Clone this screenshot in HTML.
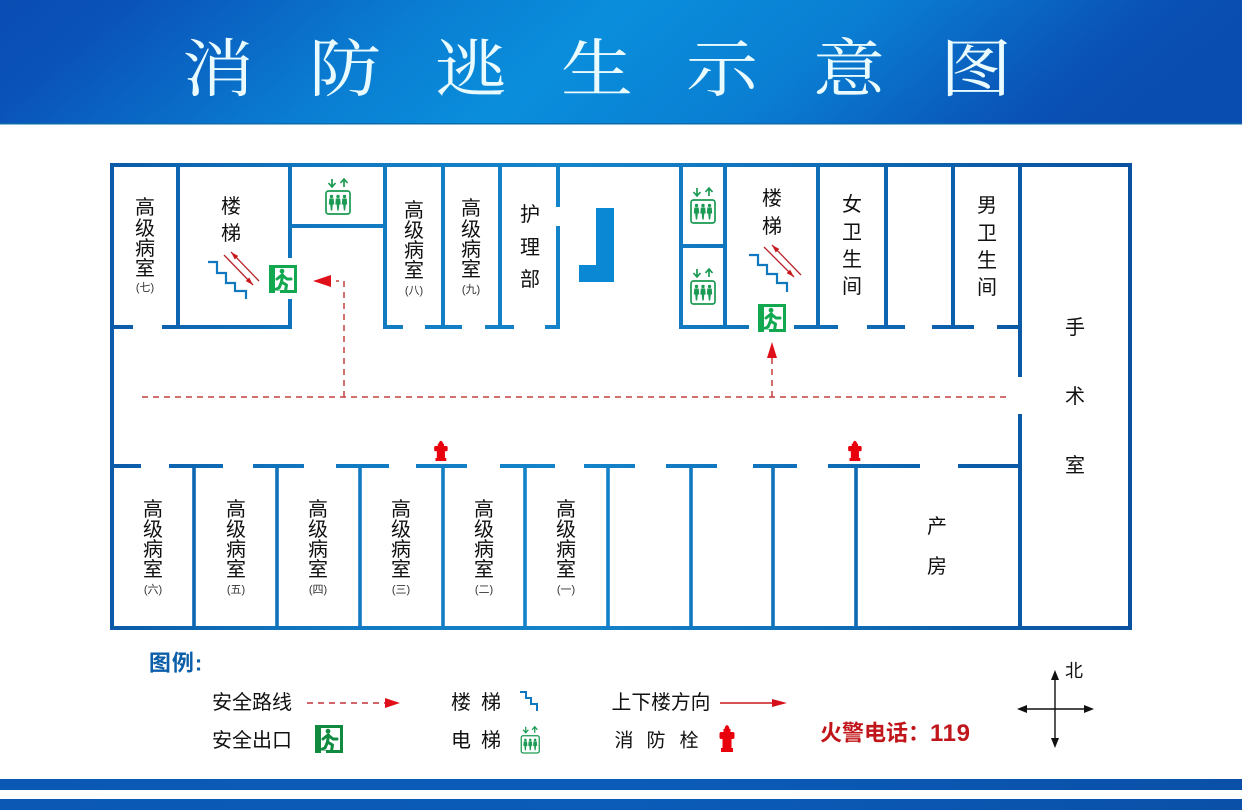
<!DOCTYPE html>
<html lang="zh">
<head>
<meta charset="utf-8">
<title>消防逃生示意图</title>
<style>
html,body{margin:0;padding:0;background:#fff;width:1242px;height:810px;overflow:hidden}
svg{display:block}
text{font-family:"Liberation Sans","Noto Sans CJK SC",sans-serif;dominant-baseline:central;text-anchor:middle;fill:#111}
.t{font-family:"Liberation Serif","Noto Serif CJK SC",serif;font-size:72px;fill:#e9fbff}
.r{font-size:20px}
.n{font-size:11px;fill:#333}
.l{font-size:20px}
.eg{fill:var(--g,#12a850)}
.es{stroke:var(--g,#12a850)}
</style>
</head>
<body>
<svg width="1242" height="810" viewBox="0 0 1242 810" xmlns="http://www.w3.org/2000/svg">
<defs>
<linearGradient id="hdr" x1="0" x2="1" y1="0" y2="0.12">
<stop offset="0" stop-color="#0a4db4"/><stop offset=".1" stop-color="#0a52b8"/><stop offset=".35" stop-color="#0a7ed2"/><stop offset=".5" stop-color="#0a8edc"/><stop offset=".7" stop-color="#0a7ed2"/><stop offset=".92" stop-color="#0a52b6"/><stop offset="1" stop-color="#0a4db0"/>
</linearGradient>
<linearGradient id="wall" gradientUnits="userSpaceOnUse" x1="110" y1="0" x2="1132" y2="0">
<stop offset="0" stop-color="#0c5aa8"/><stop offset=".2" stop-color="#1078bf"/><stop offset=".45" stop-color="#1484cb"/><stop offset=".68" stop-color="#0f6fb8"/><stop offset=".85" stop-color="#0c5ca8"/><stop offset="1" stop-color="#0a52a0"/>
</linearGradient>
<linearGradient id="bar" x1="0" x2="1" y1="0" y2="0">
<stop offset="0" stop-color="#0a58b4"/><stop offset=".5" stop-color="#0a5cb8"/><stop offset="1" stop-color="#0a50a8"/>
</linearGradient>
<g id="exit">
<rect class="eg" width="28" height="28"/>
<rect x="6" y="3" width="19" height="22" fill="#fff"/>
<g class="es" fill="none" stroke-width="3" stroke-linecap="round" stroke-linejoin="round">
<path d="M8 14 L13 10 L18 14 L22 14"/>
<path d="M13.5 10 L12.5 17 L17.5 20 L16.5 26"/>
<path d="M12.5 17 L10 23 L5 25"/>
</g>
<circle class="eg" cx="13" cy="6.2" r="2.4"/>
<rect x="6" y="25.5" width="5" height="2.5" fill="#fff"/>
</g>
<g id="lift">
<rect x="1" y="13" width="24" height="23" rx="2.5" fill="#fff" stroke="#1a9a52" stroke-width="1.7"/>
<g fill="#1a9a52">
<circle cx="6.5" cy="18.5" r="1.7"/><path d="M4.3 20.5h4.4l.5 6-1.4 0-.6 6h-1.4l-.6-6-1.4 0z"/>
<circle cx="13" cy="18.5" r="1.7"/><path d="M10.8 20.5h4.4l.5 6-1.4 0-.6 6h-1.4l-.6-6-1.4 0z"/>
<circle cx="19.5" cy="18.5" r="1.7"/><path d="M17.3 20.5h4.4l.5 6-1.4 0-.6 6h-1.4l-.6-6-1.4 0z"/>
</g>
<g fill="none" stroke="#1a9a52" stroke-width="1.7">
<path d="M7 1 V8 M3.5 5 L7 9 L10.5 5"/>
<path d="M19 9 V2 M15.5 5 L19 1 L22.5 5"/>
</g>
</g>
<g id="hyd">
<path d="M8.5 5 Q9 1.5 11 1 Q13 1.5 13.5 5 H14.5 V8 H17 Q18.5 8 18.5 10 V13 Q18.5 15 17 15 H15.5 V24 H17 V28 H5 V24 H6.5 V15 H5 Q3.5 15 3.5 13 V10 Q3.5 8 5 8 H7.5 V5 Z" fill="#e8000c"/>
</g>
<marker id="m" markerWidth="9" markerHeight="7" refX="8" refY="2.5" orient="auto" markerUnits="userSpaceOnUse"><path d="M0 0L8 2.5L0 5z" fill="#c8191d"/></marker>
</defs>

<!-- header -->
<rect width="1242" height="124" fill="url(#hdr)"/>
<rect y="123" width="1242" height="1.5" fill="#0b6aa8"/>
<text class="t" transform="translate(218,70) scale(1,.88)">消</text>
<text class="t" transform="translate(345,70) scale(1,.88)">防</text>
<text class="t" transform="translate(471,70) scale(1,.88)">逃</text>
<text class="t" transform="translate(597,70) scale(1,.88)">生</text>
<text class="t" transform="translate(722,70) scale(1,.88)">示</text>
<text class="t" transform="translate(849,70) scale(1,.88)">意</text>
<text class="t" transform="translate(976,70) scale(1,.88)">图</text>

<!-- walls -->
<g fill="none" stroke="url(#wall)" stroke-width="4">
<rect x="112" y="165" width="1018" height="463"/>
<path d="M178 165V327 M290 165V258 M290 299V327 M290 226H385 M385 165V327 M443 165V327 M500 165V327 M558 165V207 M558 226V327 M681 165V327 M725 165V327 M681 246H725 M818 165V327 M886 165V327 M953 165V327 M1020 165V377 M1020 414V628"/>
<path d="M112 327H133 M162 327H292 M383 327H403 M425 327H462 M485 327H514 M545 327H560 M679 327H749 M794 327H838 M867 327H905 M932 327H974 M997 327H1020"/>
<path d="M112 466H141 M169 466H223 M253 466H304 M336 466H389 M416 466H467 M500 466H555 M584 466H635 M666 466H717 M753 466H797 M828 466H920 M958 466H1020"/>
<path d="M194 466V628 M277 466V628 M360 466V628 M443 466V628 M525 466V628 M608 466V628 M691 466V628 M773 466V628 M856 466V628" stroke-width="3.6"/>
</g>
<path d="M596 208H614V282H579V265H596Z" fill="#0a88d4"/>

<!-- room labels -->
<g class="r">
<text class="r" x="145" y="208">高</text><text class="r" x="145" y="229">级</text><text class="r" x="145" y="249">病</text><text class="r" x="145" y="269">室</text><text class="n" x="145" y="288">(七)</text>
<text class="r" x="231" y="207">楼</text><text class="r" x="231" y="234">梯</text>
<text class="r" x="414" y="211">高</text><text class="r" x="414" y="231">级</text><text class="r" x="414" y="251">病</text><text class="r" x="414" y="271">室</text><text class="n" x="414" y="291">(八)</text>
<text class="r" x="471" y="209">高</text><text class="r" x="471" y="230">级</text><text class="r" x="471" y="250">病</text><text class="r" x="471" y="270">室</text><text class="n" x="471" y="290">(九)</text>
<text class="r" x="530" y="215">护</text><text class="r" x="530" y="248">理</text><text class="r" x="530" y="280">部</text>
<text class="r" x="772" y="199">楼</text><text class="r" x="772" y="227">梯</text>
<text class="r" x="852" y="205">女</text><text class="r" x="852" y="233">卫</text><text class="r" x="852" y="260">生</text><text class="r" x="852" y="287">间</text>
<text class="r" x="987" y="206">男</text><text class="r" x="987" y="234">卫</text><text class="r" x="987" y="261">生</text><text class="r" x="987" y="288">间</text>
<text class="r" x="1075" y="328">手</text><text class="r" x="1075" y="397">术</text><text class="r" x="1075" y="466">室</text>
<text class="r" x="153" y="510">高</text><text class="r" x="153" y="530">级</text><text class="r" x="153" y="550">病</text><text class="r" x="153" y="570">室</text><text class="n" x="153" y="590">(六)</text>
<text class="r" x="236" y="510">高</text><text class="r" x="236" y="530">级</text><text class="r" x="236" y="550">病</text><text class="r" x="236" y="570">室</text><text class="n" x="236" y="590">(五)</text>
<text class="r" x="318" y="510">高</text><text class="r" x="318" y="530">级</text><text class="r" x="318" y="550">病</text><text class="r" x="318" y="570">室</text><text class="n" x="318" y="590">(四)</text>
<text class="r" x="401" y="510">高</text><text class="r" x="401" y="530">级</text><text class="r" x="401" y="550">病</text><text class="r" x="401" y="570">室</text><text class="n" x="401" y="590">(三)</text>
<text class="r" x="484" y="510">高</text><text class="r" x="484" y="530">级</text><text class="r" x="484" y="550">病</text><text class="r" x="484" y="570">室</text><text class="n" x="484" y="590">(二)</text>
<text class="r" x="566" y="510">高</text><text class="r" x="566" y="530">级</text><text class="r" x="566" y="550">病</text><text class="r" x="566" y="570">室</text><text class="n" x="566" y="590">(一)</text>
<text class="r" x="937" y="527">产</text><text class="r" x="937" y="567">房</text>
</g>

<!-- stairs -->
<g fill="none" stroke="#1078bf" stroke-width="2.2">
<polyline points="208,262 217,262 217,273 226,273 226,283 235,283 235,291 246,291 246,299"/>
<polyline points="749,255 758,255 758,265 767,265 767,274 777,274 777,283 787,283 787,292"/>
</g>
<g fill="none" stroke="#b8262a" stroke-width="1.3">
<path d="M224 255L253 285" marker-end="url(#m)"/>
<path d="M259 281L231 252" marker-end="url(#m)"/>
<path d="M764 247L794 277" marker-end="url(#m)"/>
<path d="M801 275L772 245" marker-end="url(#m)"/>
</g>

<!-- icons -->
<use href="#lift" x="325" y="178"/>
<use href="#lift" x="690" y="187"/>
<use href="#lift" x="690" y="268"/>
<use href="#exit" x="269" y="265"/>
<use href="#exit" x="758" y="304"/>
<use href="#hyd" transform="translate(431,440) scale(.9,.75)"/>
<use href="#hyd" transform="translate(845,440) scale(.9,.75)"/>

<!-- escape routes -->
<g fill="none" stroke="#c4413f" stroke-width="1.5" stroke-dasharray="6 5">
<path d="M142 397H1008"/>
<path d="M344 397V281H336"/>
<path d="M772 397V358"/>
</g>
<path d="M313 281L331 275V287Z" fill="#e0101a"/>
<path d="M772 342L767 358H777Z" fill="#e0101a"/>

<!-- legend -->
<text x="176" y="663" style="font-size:22px;font-weight:700;fill:#0c5ea8;letter-spacing:1px">图例:</text>
<text class="l" x="252" y="703">安全路线</text>
<text class="l" x="252" y="741">安全出口</text>
<path d="M307 703H385" stroke="#c4313a" stroke-width="1.5" stroke-dasharray="6 5" fill="none"/>
<path d="M385 698L400 703L385 708Z" fill="#e0101a"/>
<use href="#exit" x="315" y="725" style="--g:#0f8a3e"/>
<text class="l" x="461" y="703">楼</text><text class="l" x="491" y="703">梯</text>
<polyline points="520,692 526,692 526,698 531,698 531,704 537,704 537,711" fill="none" stroke="#1078bf" stroke-width="2"/>
<text class="l" x="461" y="741">电</text><text class="l" x="491" y="741">梯</text>
<use href="#lift" transform="translate(520.5,726) scale(.75)"/>
<text class="l" x="661" y="703" style="font-size:19.8px">上下楼方向</text>
<path d="M720 703H774" stroke="#c8191d" stroke-width="1.6"/>
<path d="M772 699L787 703L772 707Z" fill="#d4101a"/>
<text class="l" x="624" y="741" style="font-size:19px">消</text><text class="l" x="656" y="741" style="font-size:19px">防</text><text class="l" x="689" y="741" style="font-size:19px">栓</text>
<use href="#hyd" x="716" y="724"/>
<text x="820" y="733" style="font-size:22px;font-weight:700;fill:#c0151a;text-anchor:start">火警电话：<tspan style="font-size:24px;letter-spacing:.6px">119</tspan></text>

<!-- compass -->
<g stroke="#111" stroke-width="1.4" fill="none"><path d="M1021 709H1090 M1055 674V744"/></g>
<g fill="#111">
<path d="M1017 709L1027 705V713Z M1094 709L1084 705V713Z M1055 670L1051 680H1059Z M1055 748L1051 738H1059Z"/>
</g>
<text x="1074" y="671" style="font-size:18px">北</text>

<!-- footer stripes -->
<rect y="779" width="1242" height="11" fill="url(#bar)"/>
<rect y="799" width="1242" height="11" fill="url(#bar)"/>
</svg>
</body>
</html>
